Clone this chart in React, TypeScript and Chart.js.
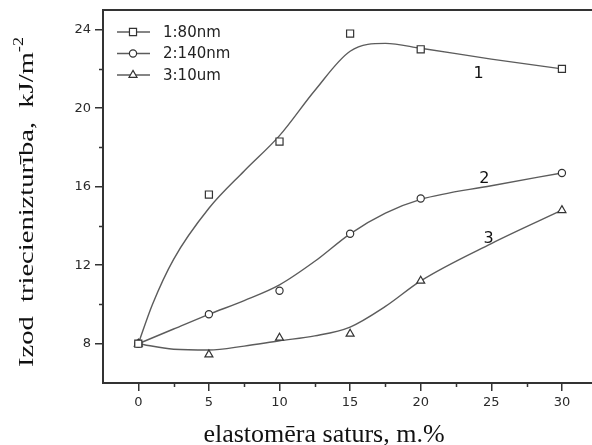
import React, { useEffect, useRef } from 'react';
import { Chart, registerables } from 'chart.js';

Chart.register(...registerables);

// Measured impact strength at each elastomer content
const X_VALUES = [0, 5, 10, 15, 20, 30];
const SERIES_1 = [8, 15.6, 18.3, 23.8, 23.0, 22.0];
const SERIES_2 = [8, 9.5, 10.7, 13.6, 15.4, 16.7];
const SERIES_3 = [8, 7.45, 8.3, 8.5, 11.2, 14.8];

// Smoothed trend curves drawn through the measurements
const FIT_X_1 = [0, 1, 2.5, 5, 7.5, 10, 12.5, 15, 17.5, 20, 25, 30];
const FIT_Y_1 = [8, 10.0, 12.3, 14.9, 16.8, 18.6, 20.9, 22.9, 23.3, 23.05, 22.5, 22.0];
const FIT_X = [0, 2.5, 5, 7.5, 10, 12.5, 15, 17.5, 20, 25, 30];
const FIT_Y_2 = [8, 8.75, 9.5, 10.2, 11.0, 12.2, 13.6, 14.65, 15.35, 16.05, 16.7];
const FIT_Y_3 = [8, 7.72, 7.68, 7.88, 8.15, 8.4, 8.85, 9.9, 11.2, 13.1, 14.8];

const SERIES_NAMES = ['1:80nm', '2:140nm', '3:10um'];
const POINT_STYLES = ['rect', 'circle', 'triangle'];
const POINT_SIZES = [5, 3.6, 4.6];

// Curve number tags, placed in data coordinates
const CURVE_TAGS = ['1', '2', '3'];
const TAG_X = [24.1, 24.5, 24.8];
const TAG_Y = [21.75, 16.4, 13.35];

const X_TICKS = [0, 5, 10, 15, 20, 25, 30];
const X_MINOR = [2.5, 7.5, 12.5, 17.5, 22.5, 27.5];
const Y_TICKS = [8, 12, 16, 20, 24];
const Y_MINOR = [10, 14, 18, 22];

const X_TITLE = 'elastomēra saturs, m.%';
const Y_TITLE = 'Izod  triecienizturība,  kJ/m';
const Y_TITLE_SUP = '-2';

const INK = '#333';
const LINE = '#5c5c5c';
const SANS = '"DejaVu Sans", sans-serif';
const SERIF = '"Liberation Serif", "Times New Roman", serif';

const pts = (xs: number[], ys: number[]) => xs.map((x, i) => ({ x, y: ys[i] }));

function marker(ctx: CanvasRenderingContext2D, style: string, x: number, y: number, r: number) {
  ctx.beginPath();
  if (style === 'rect') {
    const s = Math.SQRT1_2 * r;
    ctx.rect(x - s, y - s, 2 * s, 2 * s);
  } else if (style === 'circle') {
    ctx.arc(x, y, r, 0, Math.PI * 2);
  } else {
    let a = 0;
    ctx.moveTo(x + Math.sin(a) * r, y - Math.cos(a) * r);
    a += (2 * Math.PI) / 3;
    ctx.lineTo(x + Math.sin(a) * r, y - Math.cos(a) * r);
    a += (2 * Math.PI) / 3;
    ctx.lineTo(x + Math.sin(a) * r, y - Math.cos(a) * r);
    ctx.closePath();
  }
  ctx.fillStyle = '#fff';
  ctx.fill();
  ctx.stroke();
}

const decor = {
  id: 'decor',
  beforeDraw(chart: any) {
    const { ctx, width, height } = chart;
    ctx.save();
    ctx.fillStyle = '#fff';
    ctx.fillRect(0, 0, width, height);
    ctx.restore();
  },
  afterDraw(chart: any) {
    const { ctx, chartArea: area, scales } = chart;
    const xs = scales.x;
    const ys = scales.y;
    ctx.save();

    // top frame
    ctx.strokeStyle = INK;
    ctx.lineWidth = 2;
    ctx.beginPath();
    ctx.moveTo(area.left, area.top);
    ctx.lineTo(chart.width, area.top);
    ctx.stroke();

    // minor ticks
    ctx.lineWidth = 1.5;
    ctx.beginPath();
    X_MINOR.forEach((v) => {
      const px = Math.round(xs.getPixelForValue(v)) + 0.5;
      ctx.moveTo(px, area.bottom);
      ctx.lineTo(px, area.bottom + 4);
    });
    Y_MINOR.forEach((v) => {
      const py = Math.round(ys.getPixelForValue(v)) + 0.5;
      ctx.moveTo(area.left, py);
      ctx.lineTo(area.left - 4, py);
    });
    ctx.stroke();

    // curve tags
    ctx.fillStyle = '#111';
    ctx.font = `16px ${SANS}`;
    ctx.textAlign = 'center';
    ctx.textBaseline = 'middle';
    CURVE_TAGS.forEach((t, i) => {
      ctx.fillText(t, xs.getPixelForValue(TAG_X[i]), ys.getPixelForValue(TAG_Y[i]));
    });

    // legend
    ctx.font = `15px ${SANS}`;
    ctx.textAlign = 'left';
    SERIES_NAMES.forEach((name, i) => {
      const ry = area.top + 22 + i * 21.5;
      const lx = area.left + 14;
      ctx.strokeStyle = LINE;
      ctx.lineWidth = 1.4;
      ctx.beginPath();
      ctx.moveTo(lx, ry);
      ctx.lineTo(lx + 33, ry);
      ctx.stroke();
      ctx.strokeStyle = INK;
      ctx.lineWidth = 1.2;
      marker(ctx, POINT_STYLES[i], lx + 16, ry, POINT_SIZES[i]);
      ctx.fillStyle = '#222';
      ctx.fillText(name, lx + 46, ry + 1);
    });

    // x title
    ctx.fillStyle = '#111';
    ctx.font = `26px ${SERIF}`;
    ctx.textAlign = 'center';
    ctx.textBaseline = 'alphabetic';
    ctx.fillText(X_TITLE, 324, 442);

    // y title, rotated, with superscript
    ctx.translate(33, 202);
    ctx.rotate(-Math.PI / 2);
    ctx.font = `22px ${SERIF}`;
    const mainW = ctx.measureText(Y_TITLE).width;
    ctx.font = `14px ${SERIF}`;
    const supW = ctx.measureText(Y_TITLE_SUP).width;
    const sx = 330 / (mainW + supW);
    ctx.scale(sx, 1);
    const start = -(mainW + supW) / 2;
    ctx.textAlign = 'left';
    ctx.font = `22px ${SERIF}`;
    ctx.fillText(Y_TITLE, start, 0);
    ctx.font = `14px ${SERIF}`;
    ctx.fillText(Y_TITLE_SUP, start + mainW, -10);

    ctx.restore();
  },
};

export default function App() {
  const ref = useRef<HTMLCanvasElement>(null);

  useEffect(() => {
    const canvas = ref.current;
    if (!canvas) return;

    const markerSets = [SERIES_1, SERIES_2, SERIES_3].map((ys, i) => ({
      label: SERIES_NAMES[i],
      data: pts(X_VALUES, ys),
      showLine: false,
      pointStyle: POINT_STYLES[i],
      pointRadius: POINT_SIZES[i],
      pointBorderColor: INK,
      pointBackgroundColor: '#fff',
      pointBorderWidth: 1.2,
      order: 0,
    }));
    const fitSets = [
      pts(FIT_X_1, FIT_Y_1),
      pts(FIT_X, FIT_Y_2),
      pts(FIT_X, FIT_Y_3),
    ].map((data, i) => ({
      label: `fit ${i + 1}`,
      data,
      borderColor: LINE,
      borderWidth: 1.4,
      pointRadius: 0,
      cubicInterpolationMode: 'monotone',
      fill: false,
      order: 1,
    }));

    const tickSet = (values: number[]) => (s: any) => {
      s.ticks = values.map((value) => ({ value }));
    };

    const chart = new Chart(canvas, {
      type: 'line',
      data: { datasets: [...fitSets, ...markerSets] as any },
      options: {
        responsive: false,
        animation: false,
        layout: { autoPadding: false, padding: { top: 10, right: 0, left: 0, bottom: 0 } },
        plugins: { legend: { display: false }, tooltip: { enabled: false } },
        scales: {
          x: {
            type: 'linear',
            min: -2.5,
            max: 32.13,
            afterBuildTicks: tickSet(X_TICKS),
            afterFit: (s: any) => { s.height = 62; s.paddingRight = 0; s.paddingLeft = 0; },
            grid: { drawOnChartArea: false, drawTicks: true, tickLength: 8, color: INK, lineWidth: 1.5 },
            border: { display: true, color: INK, width: 2 },
            ticks: { font: { family: SANS, size: 13 }, color: '#2a2a2a', padding: 4, maxRotation: 0 },
          },
          y: {
            type: 'linear',
            min: 6,
            max: 25,
            afterBuildTicks: tickSet(Y_TICKS),
            afterFit: (s: any) => { s.width = 103; s.paddingTop = 0; s.paddingBottom = 0; },
            grid: { drawOnChartArea: false, drawTicks: true, tickLength: 8, color: INK, lineWidth: 1.5 },
            border: { display: true, color: INK, width: 2 },
            ticks: { font: { family: SANS, size: 13 }, color: '#2a2a2a', padding: 4 },
          },
        },
      },
      plugins: [decor],
    });

    return () => chart.destroy();
  }, []);

  return (
    <div style={{ position: 'absolute', left: 0, top: 0, width: 592, height: 445, background: '#fff' }}>
      <canvas ref={ref} width={592} height={445} style={{ display: 'block' }} />
    </div>
  );
}
